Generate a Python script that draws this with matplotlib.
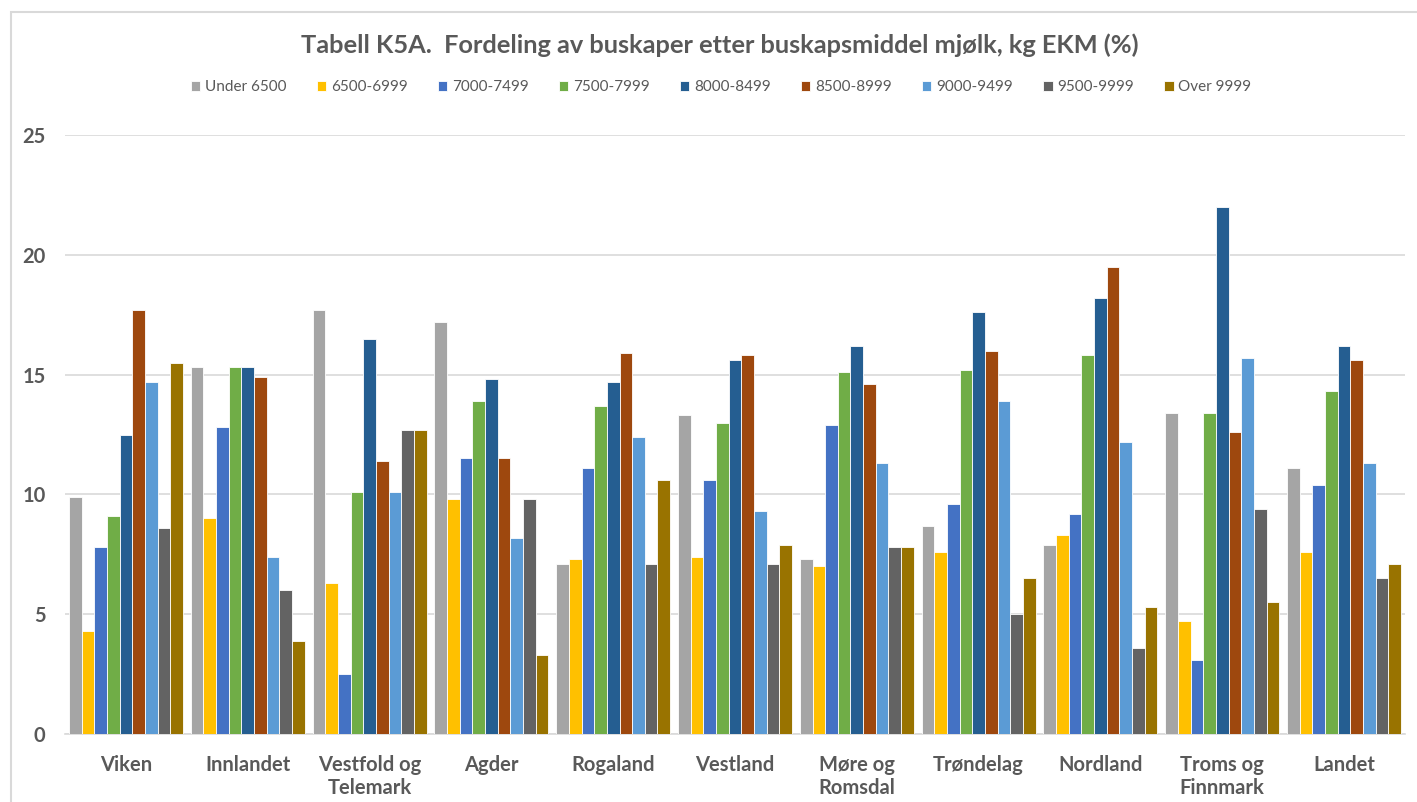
import numpy as np
import matplotlib
matplotlib.use("Agg")
import matplotlib.pyplot as plt
from matplotlib.patches import Rectangle

# regions along the x axis
regions = ["Viken", "Innlandet", "Vestfold og\nTelemark", "Agder", "Rogaland",
           "Vestland", "Møre og\nRomsdal", "Trøndelag", "Nordland",
           "Troms og\nFinnmark", "Landet"]

# size classes (kg EKM)
classes = ["Under 6500", "6500-6999", "7000-7499", "7500-7999", "8000-8499",
           "8500-8999", "9000-9499", "9500-9999", "Over 9999"]

# share of herds per class (%), one list per class, same order as regions
under_6500 = [9.9, 15.3, 17.7, 17.2, 7.1, 13.3, 7.3, 8.7, 7.9, 13.4, 11.1]
k6500_6999 = [4.3, 9.0, 6.3, 9.8, 7.3, 7.4, 7.0, 7.6, 8.3, 4.7, 7.6]
k7000_7499 = [7.8, 12.8, 2.5, 11.5, 11.1, 10.6, 12.9, 9.6, 9.2, 3.1, 10.4]
k7500_7999 = [9.1, 15.3, 10.1, 13.9, 13.7, 13.0, 15.1, 15.2, 15.8, 13.4, 14.3]
k8000_8499 = [12.5, 15.3, 16.5, 14.8, 14.7, 15.6, 16.2, 17.6, 18.2, 22.0, 16.2]
k8500_8999 = [17.7, 14.9, 11.4, 11.5, 15.9, 15.8, 14.6, 16.0, 19.5, 12.6, 15.6]
k9000_9499 = [14.7, 7.4, 10.1, 8.2, 12.4, 9.3, 11.3, 13.9, 12.2, 15.7, 11.3]
k9500_9999 = [8.6, 6.0, 12.7, 9.8, 7.1, 7.1, 7.8, 5.0, 3.6, 9.4, 6.5]
over_9999 = [15.5, 3.9, 12.7, 3.3, 10.6, 7.9, 7.8, 6.5, 5.3, 5.5, 7.1]

series = [under_6500, k6500_6999, k7000_7499, k7500_7999, k8000_8499,
          k8500_8999, k9000_9499, k9500_9999, over_9999]
colors = ["#A5A5A5", "#FFC000", "#4472C4", "#70AD47", "#255E91",
          "#9E480E", "#5B9BD5", "#636363", "#997300"]

plt.rcParams['font.family'] = ['Lato', 'DejaVu Sans']
txt = "#595959"

fig = plt.figure(figsize=(14.17, 8.02), dpi=100)
ax = fig.add_axes([0.0459, 0.0847, 0.9456, 0.7470])

x = np.arange(len(regions))
n = len(series)
w = 0.935 / n
for i, vals in enumerate(series):
    ax.bar(x + (i - (n - 1) / 2) * w, vals, width=w, color=colors[i],
           edgecolor="white", linewidth=0.6, label=classes[i], zorder=3)

ax.set_xlim(-0.5, len(regions) - 0.5)
ax.set_ylim(0, 25)
ax.set_yticks(range(0, 26, 5))
ax.yaxis.grid(True, color="#D9D9D9", linewidth=1.2, zorder=0)
for s in ["top", "right", "left"]:
    ax.spines[s].set_visible(False)
ax.spines["bottom"].set_color("#D9D9D9")
ax.spines["bottom"].set_linewidth(1.2)
ax.set_xticks(x)
ax.set_xticklabels(regions, fontsize=14.5, fontweight="bold", color=txt,
                   linespacing=1.2)
ax.tick_params(axis="y", length=0, labelsize=14.5, labelcolor=txt, pad=14)
ax.tick_params(axis="x", length=0, pad=15)
for lab in ax.get_yticklabels():
    lab.set_fontweight("bold")

fig.text(0.508, 0.944, "Tabell K5A.  Fordeling av buskaper etter buskapsmiddel mjølk, kg EKM (%)",
         ha="center", va="center", fontsize=18.3, fontweight="bold", color=txt)
fig.legend(loc="center", bbox_to_anchor=(0.509, 0.891), ncol=9, frameon=False,
           fontsize=11, handlelength=0.6, handleheight=0.6, handletextpad=0.3,
           columnspacing=2.0, labelcolor=txt)

# light border of the chart box (top and left edges visible)
fig.add_artist(Rectangle((11 / 1417, -0.05), 1.1, 1 - 12 / 802 + 0.05,
                         transform=fig.transFigure, fill=False,
                         edgecolor="#D9D9D9", linewidth=1.5))

fig.savefig("out.png", dpi=100)
